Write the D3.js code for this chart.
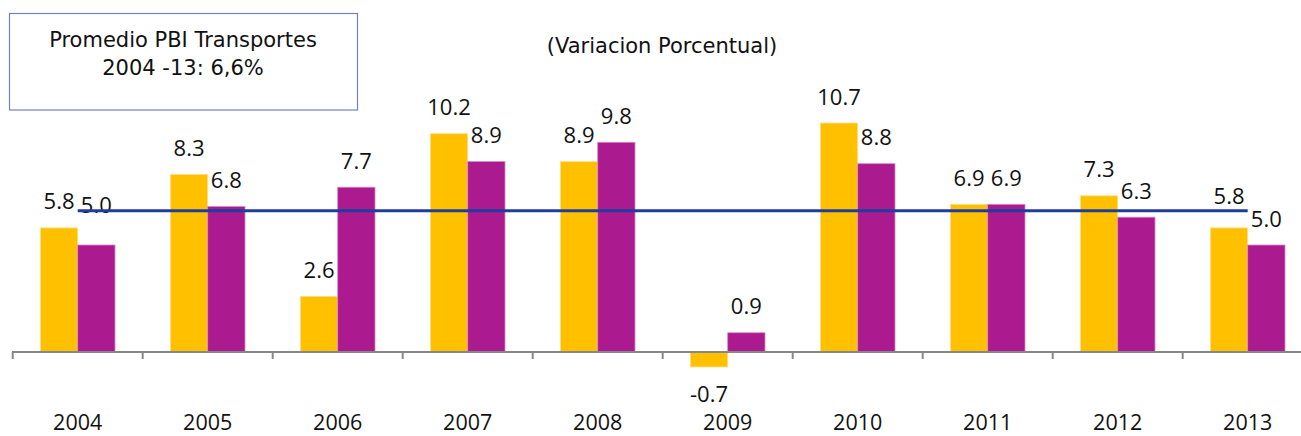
<!DOCTYPE html>
<html>
<head>
<meta charset="utf-8">
<script src="https://cdn.jsdelivr.net/npm/d3@7"></script>
<style>
  body { margin: 0; background: #fff; }
  svg text { font-family: "Open Sans", Lato, sans-serif; fill: #111; }
  svg text.wide { font-family: "DejaVu Sans", "Open Sans", sans-serif; }
</style>
</head>
<body>
<script>
const width = 1301;
const height = 436;

// data
const years = ["2004", "2005", "2006", "2007", "2008", "2009", "2010", "2011", "2012", "2013"];
const transportes = [5.8, 8.3, 2.6, 10.2, 8.9, -0.7, 10.7, 6.9, 7.3, 5.8];
const pbi = [5.0, 6.8, 7.7, 8.9, 9.8, 0.9, 8.8, 6.9, 6.3, 5.0];
const promedio = 6.6;
const boxLines = ["Promedio PBI Transportes", "2004 -13: 6,6%"];

const color = {
    yellow: "#FFC000",
    yellowEdge: "#FFE08A",
    purple: "#AB1A8F",
    purpleEdge: "#D68CC8",
    line: "#1F3D9E",
    axis: "#878787",
    box: "#7482BC"
}

// a few labels were moved by hand in the original
const labelNudge = { "2004-1": -14, "2013-0": -5 };

let svg = d3.select("body").append("svg")
    .attr("width", width)
    .attr("height", height)

let x = d3.scaleBand()
    .domain(years)
    .range([12.7, 12.7 + 130 * years.length])
    .padding(0);

let y = d3.scaleLinear()
    .domain([0, 10])
    .range([352, 138]);

const barW = x.bandwidth() * 0.287;

const series = [
    { key: 0, values: transportes, fill: color.yellow, edge: color.yellowEdge },
    { key: 1, values: pbi, fill: color.purple, edge: color.purpleEdge }
];

let groups = svg.selectAll("g.year")
    .data(years)
    .enter()
    .append("g")
    .attr("class", "year")
    .attr("transform", d => "translate(" + (x(d) + x.bandwidth() / 2) + ",0)");

series.forEach(function (s) {
    groups.append("rect")
        .attr("x", s.key === 0 ? -barW : 0)
        .attr("width", barW)
        .attr("y", (d, i) => Math.min(y(s.values[i]), y(0)))
        .attr("height", (d, i) => Math.abs(y(s.values[i]) - y(0)))
        .attr("fill", s.fill)
        .attr("stroke", s.edge)
        .attr("stroke-width", 0.8);
});

// axis line with ticks between categories
svg.append("line")
    .attr("x1", 12)
    .attr("x2", width)
    .attr("y1", y(0))
    .attr("y2", y(0))
    .attr("stroke", color.axis)
    .attr("stroke-width", 2);

svg.selectAll("line.tick")
    .data(years)
    .enter()
    .append("line")
    .attr("class", "tick")
    .attr("x1", d => x(d))
    .attr("x2", d => x(d))
    .attr("y1", y(0))
    .attr("y2", y(0) + 7)
    .attr("stroke", color.axis)
    .attr("stroke-width", 2);

// year labels
svg.selectAll("text.yr")
    .data(years)
    .enter()
    .append("text")
    .attr("class", "yr")
    .attr("x", d => x(d) + x.bandwidth() / 2)
    .attr("y", 430)
    .attr("text-anchor", "middle")
    .attr("font-size", 21.5)
    .text(d => d);

// average line
svg.append("line")
    .attr("x1", x(years[0]) + x.bandwidth() / 2)
    .attr("x2", x(years[years.length - 1]) + x.bandwidth() / 2)
    .attr("y1", y(promedio))
    .attr("y2", y(promedio))
    .attr("stroke", color.line)
    .attr("stroke-width", 3.2);

// value labels
series.forEach(function (s) {
    groups.append("text")
        .attr("x", s.key === 0 ? -barW / 2 : barW / 2)
        .attr("y", function (d, i) {
            let v = s.values[i];
            let nudge = labelNudge[d + "-" + s.key] || 0;
            if (v < 0) return y(v) + 35 + nudge;
            return y(v) - 18.5 + nudge;
        })
        .attr("text-anchor", "middle")
        .attr("font-size", 22)
        .text((d, i) => s.values[i].toFixed(1));
});

// title
svg.append("text")
    .attr("class", "wide")
    .attr("x", 662)
    .attr("y", 53)
    .attr("text-anchor", "middle")
    .attr("font-size", 21)
    .text("(Variacion Porcentual)");

// note box
svg.append("rect")
    .attr("x", 9.5)
    .attr("y", 13.5)
    .attr("width", 348)
    .attr("height", 96.5)
    .attr("fill", "#fff")
    .attr("stroke", color.box)
    .attr("stroke-width", 1.2);

svg.selectAll("text.box")
    .data(boxLines)
    .enter()
    .append("text")
    .attr("class", "box wide")
    .attr("x", 183)
    .attr("y", (d, i) => 46.5 + i * 28.5)
    .attr("text-anchor", "middle")
    .attr("font-size", 21)
    .text(d => d);
</script>
</body>
</html>
